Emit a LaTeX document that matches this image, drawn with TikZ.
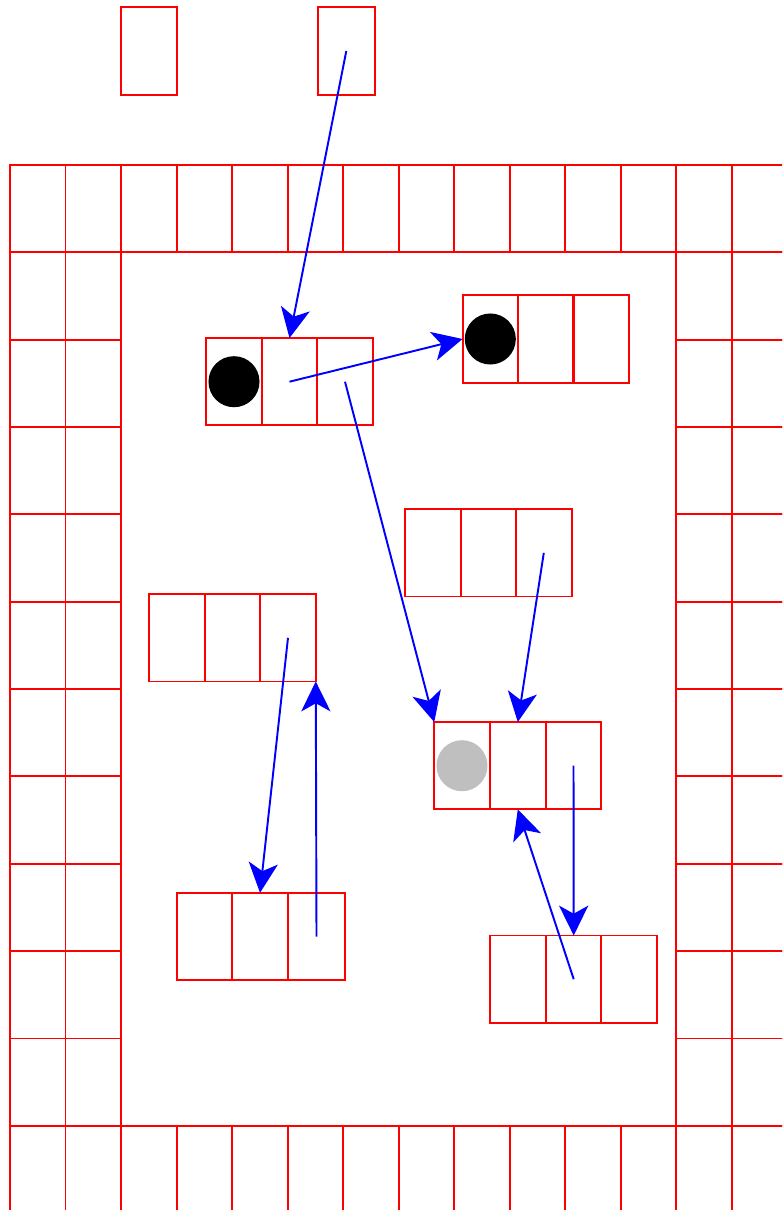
\documentclass[tikz,border=0pt]{standalone}
\usetikzlibrary{arrows.meta}
\begin{document}
\begin{tikzpicture}[x=0.01cm,y=-0.01cm,
  wall/.style={draw=red, line width=0.55pt},
  cell/.style={draw=red, line width=0.55pt, minimum width=0.555cm, minimum height=0.873cm, inner sep=0pt, outer sep=0pt},
  widecell/.style={cell, minimum width=0.575cm},
  ptr/.style={draw=blue, line width=0.55pt, -{Stealth[length=8.5pt,width=8.3pt,inset=2.3pt]}},
  blackdot/.style={circle, fill=black, minimum size=0.51cm, inner sep=0pt},
  graydot/.style={circle, fill=black!25, minimum size=0.51cm, inner sep=0pt}]
\useasboundingbox (0,0) rectangle (782,1210);
% surrounding grid
\begin{scope}
\clip (0,0) rectangle (782,1210);
\begin{scope}[shift={(10,165)}, x=0.555cm, y=-0.873cm]
\foreach \c in {0,...,13} {
  \draw[wall] (\c,0) rectangle ++(1,1);
  \draw[wall] (\c,11) rectangle ++(1,1);
}
\foreach \r in {1,...,10} {
  \foreach \c in {0,1,12,13} {
    \draw[wall] (\c,\r) rectangle ++(1,1);
  }
}
\end{scope}
\end{scope}
% top single cells
\node[cell] (T1) at (148.8,51) {};
\node[widecell] (T2) at (346.3,51) {};
% record A
\node[cell] (A1) at (234,381.7) {};
\node[cell] (A2) at (289.5,381.7) {};
\node[cell] (A3) at (345,381.7) {};
% record B
\node[cell] (B1) at (490.3,339) {};
\node[cell] (B2) at (545.8,339) {};
\node[cell] (B3) at (601.2,339) {};
% record C
\node[cell] (C1) at (433,552.8) {};
\node[cell] (C2) at (488.3,552.8) {};
\node[cell] (C3) at (543.8,552.8) {};
% record D
\node[cell] (D1) at (177,637.8) {};
\node[cell] (D2) at (232.3,637.8) {};
\node[cell] (D3) at (288,637.8) {};
% record E
\node[cell] (E1) at (462,765.7) {};
\node[cell] (E2) at (517.8,765.7) {};
\node[cell] (E3) at (573.5,765.7) {};
% record F
\node[cell] (F1) at (204.5,936.5) {};
\node[cell] (F2) at (260,936.5) {};
\node[widecell] (F3) at (316.5,936.5) {};
% record G
\node[cell] (G1) at (518,979.2) {};
\node[cell] (G2) at (573.7,979.2) {};
\node[cell] (G3) at (629.2,979.2) {};
% dots
\node[blackdot] (dA) at (A1.center) {};
\node[blackdot] (dB) at (B1.center) {};
\node[graydot] (dE) at (E1.center) {};
% pointers
\draw[ptr] (T2.center) -- (A2.north);
\draw[ptr] (A2.center) -- (B1.west);
\draw[ptr] (A3.center) -- (E1.north west);
\draw[ptr] (C3.center) -- (E2.north);
\draw[ptr] (D3.center) -- (F2.north);
\draw[ptr] (F3.center) -- (D3.south east);
\draw[ptr] (E3.center) -- (G2.north);
\draw[ptr] (G2.center) -- (E2.south);
\end{tikzpicture}
\end{document}
